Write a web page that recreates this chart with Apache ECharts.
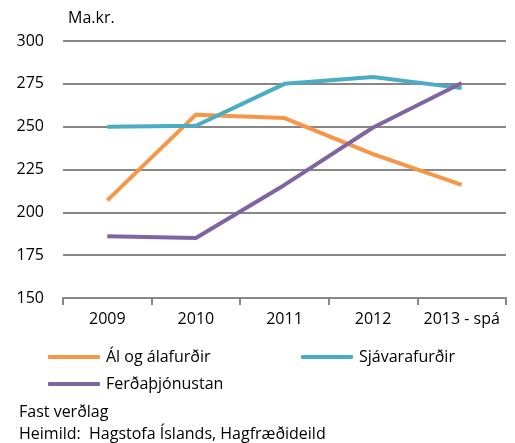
<!DOCTYPE html>
<html>
<head>
<meta charset="utf-8">
<script src="https://cdn.jsdelivr.net/npm/echarts@6/dist/echarts.min.js"></script>
<style>
  html, body { margin: 0; padding: 0; background: #fff; }
  #chart { width: 515px; height: 443px; }
</style>
</head>
<body>
<div id="chart"></div>
<script>
// ár
var years = ["2009", "2010", "2011", "2012", "2013 - spá"];
// Ma.kr., fast verðlag
var alData = [207, 257, 255, 234, 216];
var sjavarData = [250, 250.5, 275, 279, 272.5];
var ferdaData = [186, 185, 216, 249.5, 275.5];
var yTicks = { min: 150, max: 300, interval: 25 };

var font = "'Open Sans', sans-serif";
var gray = "#878787";
var fs = 16;

var myChart = echarts.init(document.getElementById("chart"));
var option = {
  animation: false,
  textStyle: { fontFamily: font },
  title: [
    { text: "Ma.kr.", left: 63, top: 5, textStyle: { fontFamily: font, fontSize: fs, fontWeight: "normal", color: "#000" } },
    { text: "Fast verðlag", left: 14, top: 399, textStyle: { fontFamily: font, fontSize: fs, fontWeight: "normal", color: "#000" } },
    { text: "Heimild:  Hagstofa Íslands, Hagfræðideild", left: 14, top: 421, textStyle: { fontFamily: font, fontSize: fs, fontWeight: "normal", color: "#000" } }
  ],
  legend: [
    {
      data: ["Ál og álafurðir"], left: 48, top: 349, icon: "roundRect",
      itemWidth: 52, itemHeight: 4, itemGap: 0, padding: 0,
      textStyle: { fontFamily: font, fontSize: fs, color: "#000", padding: [0, 0, 0, 1] }
    },
    {
      data: ["Sjávarafurðir"], left: 301, top: 349, icon: "roundRect",
      itemWidth: 52, itemHeight: 4, itemGap: 0, padding: 0,
      textStyle: { fontFamily: font, fontSize: fs, color: "#000", padding: [0, 0, 0, 1] }
    },
    {
      data: ["Ferðaþjónustan"], left: 48, top: 376, icon: "roundRect",
      itemWidth: 52, itemHeight: 4, itemGap: 0, padding: 0,
      textStyle: { fontFamily: font, fontSize: fs, color: "#000", padding: [0, 0, 0, 1] }
    }
  ],
  grid: { left: 63, right: 9, top: 41, bottom: 145 },
  xAxis: {
    type: "category",
    data: years,
    boundaryGap: true,
    axisLine: { lineStyle: { color: gray, width: 2 } },
    axisTick: { show: true, interval: 0, length: 7, lineStyle: { color: gray, width: 2 } },
    axisLabel: { color: "#000", fontSize: fs, fontFamily: font, margin: 13, interval: 0 }
  },
  yAxis: {
    type: "value",
    min: yTicks.min,
    max: yTicks.max,
    interval: yTicks.interval,
    axisLine: { show: false },
    axisTick: { show: false },
    axisLabel: { color: "#000", fontSize: fs, fontFamily: font, margin: 19 },
    splitLine: { lineStyle: { color: gray, width: 2 } }
  },
  series: [
    {
      name: "Ál og álafurðir", type: "line", data: alData, symbol: "none",
      color: "#F79646", lineStyle: { width: 4, color: "#F79646" }
    },
    {
      name: "Sjávarafurðir", type: "line", data: sjavarData, symbol: "none",
      color: "#4BACC6", lineStyle: { width: 4, color: "#4BACC6" }
    },
    {
      name: "Ferðaþjónustan", type: "line", data: ferdaData, symbol: "none",
      color: "#8064A2", lineStyle: { width: 4, color: "#8064A2" }
    }
  ]
};

option && myChart.setOption(option);
</script>
</body>
</html>
